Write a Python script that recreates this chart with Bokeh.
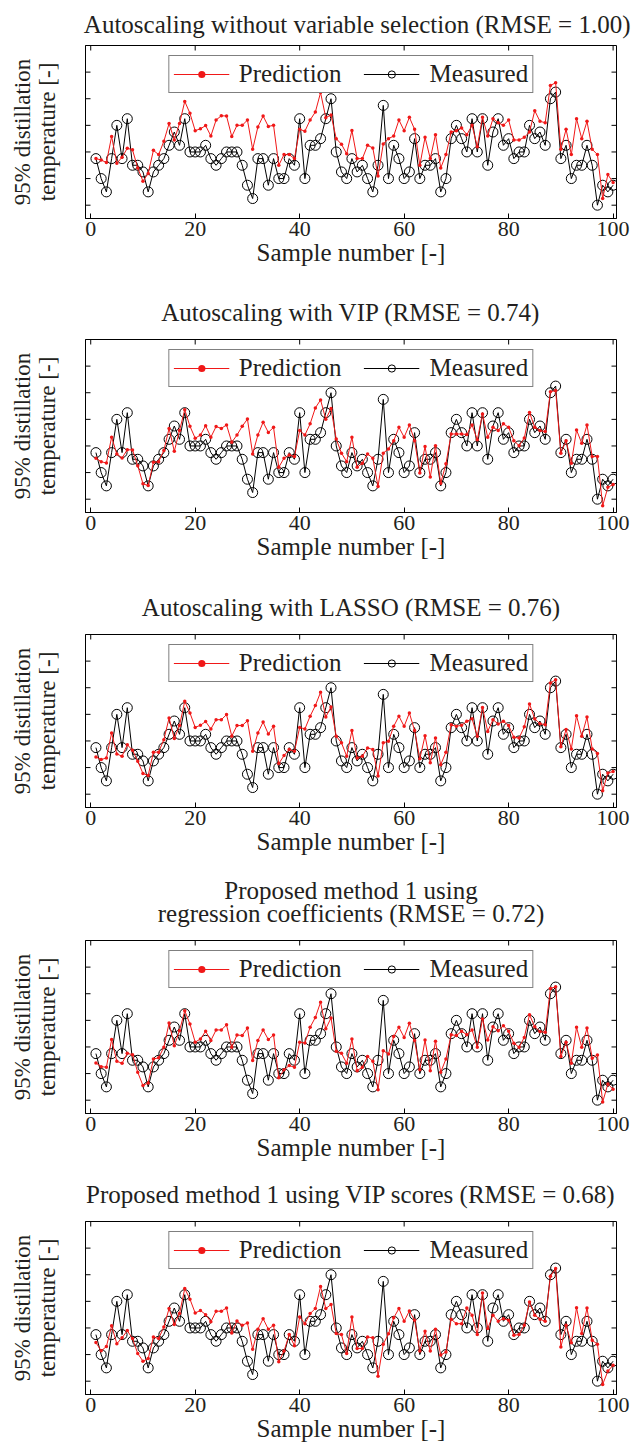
import math
from bokeh.plotting import figure
from bokeh.models import Range1d, LinearAxis, FixedTicker, Legend, LegendItem, Title, ColumnDataSource
from bokeh.layouts import column
from bokeh.embed import file_html
from bokeh.resources import INLINE

FONT = "Liberation Serif"
TXT = "#231f20"
RED = "#f01818"

sample = list(range(1, 101))
x_ticks = [0, 20, 40, 60, 80, 100]
y_ticks = [1, 2, 3, 4, 5, 6]
X_START, X_END = -1.0, 100.65
Y_START, Y_END = 0.5, 7.0

measured = [
    2.75, 2.0, 1.5, 2.75, 4.0, 2.75, 4.25, 2.5, 2.5, 2.25,
    1.5, 2.25, 2.5, 2.75, 3.25, 3.75, 3.25, 4.25, 3.0, 3.0,
    3.0, 3.25, 2.75, 2.5, 2.75, 3.0, 3.0, 3.0, 2.5, 1.75,
    1.25, 2.75, 2.75, 1.75, 2.75, 2.0, 2.0, 2.75, 2.5, 4.25,
    2.0, 3.25, 3.25, 3.5, 4.25, 5.0, 3.0, 2.25, 2.0, 2.75,
    2.25, 2.5, 2.0, 1.5, 2.5, 4.75, 2.0, 3.25, 2.75, 2.0,
    2.25, 3.5, 2.0, 2.5, 2.5, 2.75, 1.5, 2.0, 3.5, 4.0,
    3.5, 3.0, 4.25, 3.0, 4.25, 2.5, 3.75, 4.25, 3.25, 3.5,
    2.75, 3.0, 3.0, 4.0, 3.5, 3.75, 3.25, 5.0, 5.25, 2.75,
    3.25, 2.0, 2.5, 2.5, 3.25, 2.5, 1.0, 1.75, 1.5, 1.75,
]

pred_autoscaling = [
    2.75, 2.7, 2.6, 3.58, 2.58, 2.8, 3.14, 3.08, 2.4, 1.9,
    2.19, 3.06, 2.9, 3.4, 4.07, 3.45, 4.07, 4.9, 4.45, 3.8,
    3.87, 3.99, 3.6, 4.2, 4.36, 4.35, 3.58, 4.0, 4.0, 4.2,
    3.1, 3.94, 4.35, 3.96, 4.0, 2.5, 2.9, 2.9, 2.75, 3.85,
    3.78, 4.2, 4.5, 5.23, 4.29, 4.39, 3.5, 3.29, 2.93, 3.81,
    2.75, 2.75, 3.25, 3.15, 2.1, 3.3, 3.5, 3.6, 4.2, 3.8,
    4.3, 3.85, 2.5, 3.55, 2.75, 3.65, 2.4, 2.9, 3.75, 3.8,
    3.9, 3.65, 4.0, 3.2, 4.3, 3.6, 4.25, 4.1, 4.0, 4.2,
    3.45, 3.45, 3.55, 3.75, 4.55, 4.15, 4.1, 5.5, 5.6, 3.1,
    3.85, 2.9, 4.25, 3.5, 4.15, 3.1, 2.9, 1.25, 2.15, 1.85,
]

pred_vip = [
    2.54, 2.41, 2.36, 3.33, 2.7, 2.55, 2.86, 2.85, 2.26, 1.58,
    1.51, 2.39, 2.41, 2.83, 3.66, 2.8, 3.58, 4.36, 3.74, 3.29,
    3.41, 3.76, 3.33, 3.73, 3.66, 3.79, 3.14, 3.41, 3.74, 4.01,
    2.7, 3.41, 3.89, 3.51, 3.7, 2.2, 2.54, 2.66, 2.6, 3.58,
    3.41, 3.83, 4.43, 4.73, 4.0, 4.41, 3.26, 2.73, 2.41, 3.33,
    2.2, 2.35, 2.7, 2.54, 1.48, 2.73, 2.89, 3.2, 3.7, 3.33,
    3.79, 3.2, 1.98, 2.98, 1.83, 3.01, 1.6, 2.33, 3.45, 3.45,
    3.45, 3.43, 3.79, 3.23, 4.2, 3.33, 3.7, 3.58, 3.83, 3.7,
    3.2, 3.01, 3.3, 4.26, 3.7, 3.58, 3.54, 5.04, 5.08, 2.73,
    3.2, 2.35, 3.6, 3.1, 3.79, 2.6, 2.6, 0.75, 1.45, 1.55,
]

pred_lasso = [
    2.4, 2.3, 2.36, 3.3, 2.51, 2.43, 2.86, 2.65, 2.24, 1.78,
    1.7, 2.58, 2.58, 3.05, 3.86, 3.09, 3.58, 4.49, 4.05, 3.51,
    3.59, 3.73, 3.45, 3.8, 3.8, 3.99, 3.18, 3.58, 3.58, 3.76,
    2.61, 3.3, 3.71, 3.26, 3.55, 2.15, 2.45, 2.68, 2.61, 3.51,
    3.45, 3.93, 4.33, 4.83, 3.9, 4.28, 3.18, 2.93, 2.43, 3.39,
    2.36, 2.43, 2.74, 2.68, 1.68, 2.93, 2.99, 3.55, 3.93, 3.55,
    4.05, 3.39, 2.33, 3.2, 2.18, 3.11, 2.11, 2.58, 3.61, 3.55,
    3.59, 3.74, 3.83, 3.18, 4.26, 3.36, 3.8, 3.64, 3.74, 3.58,
    3.14, 3.11, 3.53, 4.39, 3.83, 3.65, 3.61, 5.18, 5.3, 2.78,
    3.43, 2.7, 3.95, 3.18, 3.9, 2.7, 2.53, 1.13, 1.8, 1.85,
]

pred_method1_coef = [
    2.4, 2.26, 2.24, 3.28, 2.46, 2.39, 2.76, 2.71, 2.05, 1.55,
    1.65, 2.55, 2.59, 2.99, 3.9, 3.05, 3.61, 4.36, 3.86, 3.18,
    3.3, 3.59, 3.24, 3.64, 3.64, 3.83, 2.99, 3.45, 3.43, 3.71,
    2.49, 3.24, 3.64, 3.28, 3.45, 1.84, 2.14, 2.3, 2.24, 3.18,
    3.15, 3.74, 4.11, 4.68, 3.68, 4.09, 2.84, 2.76, 2.39, 3.3,
    2.11, 2.24, 2.64, 2.46, 1.39, 2.86, 2.74, 3.39, 3.74, 3.36,
    3.89, 3.24, 2.14, 3.26, 2.11, 3.21, 2.05, 2.55, 3.46, 3.43,
    3.59, 3.46, 3.64, 2.99, 4.05, 3.26, 3.76, 3.61, 3.8, 3.59,
    3.14, 2.99, 3.36, 4.21, 3.76, 3.58, 3.55, 5.2, 5.26, 2.64,
    3.18, 2.39, 3.74, 2.99, 3.71, 2.58, 2.7, 0.93, 1.61, 1.41,
]

pred_method1_vip = [
    2.45, 2.14, 2.3, 3.08, 2.41, 2.63, 2.9, 2.6, 2.04, 1.75,
    1.85, 2.66, 2.6, 3.04, 3.73, 3.13, 3.54, 4.48, 4.08, 3.56,
    3.66, 3.5, 3.23, 3.63, 3.63, 3.75, 2.81, 3.26, 3.1, 3.19,
    2.2, 2.95, 3.35, 2.95, 3.1, 1.73, 2.13, 2.75, 2.33, 3.41,
    3.16, 3.54, 3.73, 4.56, 3.73, 3.88, 2.79, 2.75, 2.04, 3.41,
    2.23, 2.23, 2.66, 2.63, 1.19, 2.39, 2.78, 3.38, 3.73, 3.25,
    3.64, 3.29, 2.13, 2.88, 2.13, 2.95, 1.98, 2.1, 3.33, 3.16,
    3.16, 3.75, 3.48, 2.75, 4.31, 2.98, 3.48, 3.25, 3.35, 3.29,
    2.73, 2.75, 3.1, 3.98, 3.48, 3.33, 3.25, 4.94, 5.23, 2.28,
    3.1, 2.44, 3.76, 2.79, 3.75, 2.54, 2.39, 0.88, 1.38, 1.6,
]

titles = [
    ["Autoscaling without variable selection (RMSE = 1.00)"],
    ["Autoscaling with VIP (RMSE = 0.74)"],
    ["Autoscaling with LASSO (RMSE = 0.76)"],
    ["Proposed method 1 using", "regression coefficients (RMSE = 0.72)"],
    ["Proposed method 1 using VIP scores (RMSE = 0.68)"],
]
predictions = [pred_autoscaling, pred_vip, pred_lasso, pred_method1_coef, pred_method1_vip]


def make_panel(title_lines, pred, height, min_top, min_bottom, standoff, first=False):
    p = figure(width=632, height=height,
               x_range=Range1d(X_START, X_END), y_range=Range1d(Y_START, Y_END),
               output_backend="svg", toolbar_location=None,
               min_border_left=85, min_border_right=16,
               min_border_top=min_top, min_border_bottom=min_bottom,
               x_axis_type=None, y_axis_type=None)
    p.outline_line_color = "black"
    p.outline_line_width = 1
    p.background_fill_color = "white"
    p.border_fill_color = "white"

    bottom = LinearAxis(ticker=FixedTicker(ticks=x_ticks), major_tick_in=5, major_tick_out=0,
                        minor_tick_in=0, minor_tick_out=0, axis_line_color="black",
                        major_tick_line_color="black",
                        axis_label="Sample number [-]", major_label_standoff=3,
                        major_label_text_font=FONT, major_label_text_font_size="22px",
                        major_label_text_color=TXT, axis_label_text_font=FONT,
                        axis_label_text_font_size="25px", axis_label_text_font_style="normal",
                        axis_label_text_color=TXT, axis_label_standoff=0)
    p.add_layout(bottom, "below")
    left = LinearAxis(ticker=FixedTicker(ticks=[]), axis_line_color="black",
                      major_tick_in=0, major_tick_out=0, minor_tick_in=0, minor_tick_out=0,
                      axis_label="95% distillation\ntemperature [-]", axis_label_text_font=FONT,
                      axis_label_text_font_size="23px", axis_label_text_font_style="normal",
                      axis_label_text_line_height=1.0,
                      axis_label_text_color=TXT, axis_label_standoff=26)
    p.add_layout(left, "left")

    # first title added sits closest to the frame
    for i, line in enumerate(reversed(title_lines)):
        t = Title(text=line, text_font=FONT, text_font_size="25px", text_font_style="normal",
                  text_color=TXT, text_line_height=1.0,
                  standoff=standoff if i == 0 else -40)
        if first:
            t.align = "right"
            t.offset = -14
        else:
            t.align = "center"
        p.add_layout(t, "above")

    # inward tick marks on left, right and top edges
    p.scatter(x=[X_START] * len(y_ticks), y=y_ticks, marker="dash", size=10,
              line_color="black", line_width=1)
    p.scatter(x=[X_END] * len(y_ticks), y=y_ticks, marker="dash", size=10,
              line_color="black", line_width=1)
    p.scatter(x=x_ticks, y=[Y_END] * len(x_ticks), marker="dash", size=10, angle=math.pi / 2,
              line_color="black", line_width=1)

    src = ColumnDataSource(dict(x=sample, meas=measured, pred=pred))
    lm = p.line("x", "meas", source=src, line_color="black", line_width=1)
    sm = p.scatter("x", "meas", source=src, size=10, marker="circle", fill_color=None,
                   line_color="black", line_width=1)
    lp = p.line("x", "pred", source=src, line_color=RED, line_width=1)
    sp = p.scatter("x", "pred", source=src, size=3.5, marker="circle", fill_color=RED,
                   line_color=None)

    legend = Legend(items=[LegendItem(label="Prediction", renderers=[lp, sp]),
                           LegendItem(label="Measured", renderers=[lm, sm])],
                    orientation="horizontal", location="top_center",
                    border_line_color="black", border_line_width=1.5,
                    label_text_font=FONT, label_text_font_size="25px", label_text_color=TXT,
                    label_text_line_height=0.8,
                    glyph_width=56, glyph_height=18, label_height=18,
                    padding=4, spacing=22, label_standoff=10, margin=10,
                    background_fill_color="white", background_fill_alpha=1)
    p.add_layout(legend)
    return p


# (figure height, top border, bottom border, title standoff)
specs = [
    (281, 45, 63, 15),
    (295, 58, 64, 28),
    (298, 58, 67, 28),
    (289, 66, 50, 28),
    (283, 58, 52, 28),
]

figs = []
for k, (tl, pr, (h, mt, mb, so)) in enumerate(zip(titles, predictions, specs)):
    figs.append(make_panel(tl, pr, h, mt, mb, so, first=(k == 0)))

layout = column(*figs, spacing=0)
open("out.html", "w").write(file_html(layout, INLINE))
